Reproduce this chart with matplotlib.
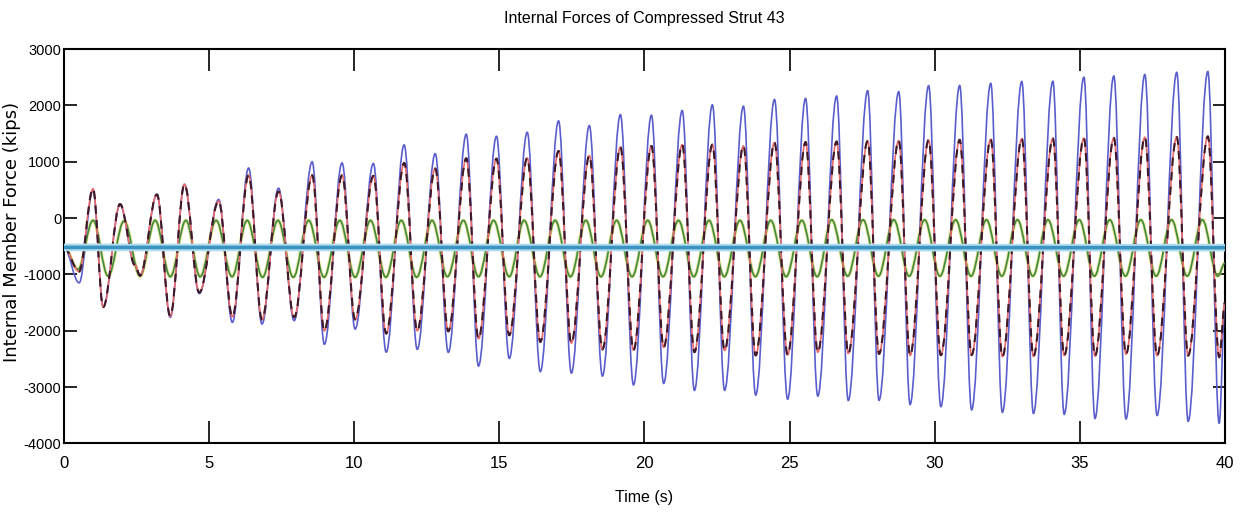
#Internal forces of compressed strut 43 - time history of member force
import matplotlib.pyplot as plt
import numpy as np
from matplotlib.path import Path
from matplotlib.patches import PathPatch

plt.rcParams['axes.unicode_minus'] = False
narrow = ['Liberation Sans', 'DejaVu Sans']

##########################################
#Extrema (time in s, force in kips)
t_main = [0.0, 0.52, 1.0, 1.35, 1.93, 2.45, 2.62, 3.2, 3.66, 4.15, 4.66, 5.33, 5.8, 6.36, 6.82,
          7.39, 7.93, 8.55, 8.97, 9.58, 10.03, 10.66, 11.1, 11.72, 12.17, 12.79, 13.24, 13.86,
          14.28, 14.9, 15.34, 15.96, 16.41, 17.04, 17.48, 18.1, 18.55, 19.17, 19.62, 20.24,
          20.66, 21.3, 21.72, 22.34, 22.76, 23.41, 23.83, 24.48, 24.93, 25.55, 25.97, 26.62,
          27.02, 27.69, 28.08, 28.76, 29.15, 29.79, 30.21, 30.86, 31.27, 31.93, 32.33, 33.0,
          33.4, 34.07, 34.46, 35.14, 35.52, 36.17, 36.59, 37.24, 37.66, 38.34, 38.73, 39.41,
          39.8, 40.0]
blue = [-520, -1150, 500, -1580, 230, -840, -1020, 420, -1760, 600, -1340, 330, -1850, 890, -1880,
        530, -1820, 1000, -2240, 980, -1970, 970, -2380, 1300, -2331, 1145, -2384, 1489,
        -2627, 1453, -2491, 1524, -2725, 1726, -2752, 1643, -2805, 1839, -2963, 1827,
        -2936, 1910, -3060, 2011, -3058, 1987, -3143, 2106, -3215, 2125, -3160, 2168,
        -3239, 2263, -3236, 2246, -3310, 2352, -3348, 2355, -3404, 2393, -3449, 2426,
        -3469, 2429, -3484, 2502, -3558, 2523, -3567, 2550, -3505, 2588, -3608, 2604,
        -3646, -1500]
red = [-520, -950, 520, -1580, 250, -840, -1020, 420, -1740, 600, -1320, 300, -1750, 760, -1800,
       470, -1760, 760, -2000, 760, -1800, 750, -2050, 980, -2000, 880, -2011, 1063,
       -2140, 1056, -2080, 1068, -2197, 1192, -2218, 1109, -2331, 1260, -2345, 1280,
       -2295, 1305, -2380, 1305, -2350, 1281, -2438, 1340, -2430, 1350, -2380, 1360,
       -2402, 1370, -2411, 1375, -2437, 1385, -2434, 1390, -2431, 1400, -2458, 1410,
       -2455, 1415, -2440, 1420, -2449, 1425, -2417, 1435, -2443, 1440, -2440, 1450,
       -2467, -1500]

t_green = [0.0, 0.48, 1.0, 1.52, 2.07, 2.62, 3.14, 3.66, 4.2, 4.69, 5.24, 5.79, 6.31, 6.84,
           7.37, 7.9, 8.43, 8.96, 9.5, 10.03, 10.56, 11.09, 11.62, 12.15, 12.68, 13.21, 13.76,
           14.28, 14.8, 15.34, 15.85, 16.4, 16.92, 17.45, 17.98, 18.5, 19.04, 19.57, 20.11,
           20.64, 21.17, 21.7, 22.22, 22.75, 23.29, 23.82, 24.35, 24.88, 25.42, 25.95, 26.45,
           27.0, 27.53, 28.06, 28.59, 29.12, 29.65, 30.18, 30.72, 31.25, 31.78, 32.31, 32.85,
           33.38, 33.9, 34.44, 34.98, 35.5, 36.03, 36.57, 37.1, 37.63, 38.16, 38.7, 39.22,
           39.75, 40.0]
green = [-500, -910, -40, -1030, -50, -1030, -40, -1040, -40, -1040, -40, -1040, -40, -1050,
         -40, -1050, -40, -1050, -40, -1050, -40, -1050, -40, -1050, -40, -1040, -40,
         -1040, -40, -1040, -40, -1040, -40, -1040, -40, -1040, -40, -1040, -40,
         -1040, -40, -1040, -40, -1040, -40, -1040, -40, -1040, -40, -1040, -30,
         -1030, -30, -1030, -30, -1030, -30, -1030, -30, -1030, -30, -1030, -30,
         -1030, -30, -1030, -30, -1030, -30, -1030, -30, -1030, -30, -1030, -30,
         -1030, -800]

t_axial = [0.0, 40.0]
axial = [-520, -525]

x_ticks = [0, 5, 10, 15, 20, 25, 30, 35, 40]
y_ticks = [-4000, -3000, -2000, -1000, 0, 1000, 2000, 3000]


def smooth_curve(ax, t, v, **kw):
	#join the read extrema with cubic segments that are flat at each extremum
	verts = [(t[0], v[0])]
	codes = [Path.MOVETO]
	for i in range(len(t) - 1):
		dt = t[i + 1] - t[i]
		verts += [(t[i] + 0.36 * dt, v[i]), (t[i + 1] - 0.36 * dt, v[i + 1]), (t[i + 1], v[i + 1])]
		codes += [Path.CURVE4] * 3
	patch = PathPatch(Path(verts, codes), fill=False, **kw)
	ax.add_patch(patch)
	return patch


##########################################
#Plot
fig = plt.figure(figsize=(12.43, 5.12), dpi=100)
ax = fig.add_axes([0.0515, 0.134, 0.934, 0.770])

smooth_curve(ax, t_main, blue, edgecolor='#5a5ecc', lw=1.2, zorder=3)
smooth_curve(ax, t_main, red, edgecolor='#e86a68', lw=1.2, zorder=4)
smooth_curve(ax, t_main, red, edgecolor='#3c1a2a', lw=1.5, ls=(0, (4, 3)), zorder=5)
smooth_curve(ax, t_green, green, edgecolor='#ddd65a', lw=2.4, alpha=0.7, zorder=2)
smooth_curve(ax, t_green, green, edgecolor='#3f8a45', lw=1.2, zorder=3)
ax.plot(t_axial, axial, color='#b0dcf0', lw=5.5, zorder=5)
ax.plot(t_axial, axial, color='#3b93c2', lw=2.6, zorder=6)

ax.set_xlim(0, 40)
ax.set_ylim(-4000, 3000)
ax.set_xticks(x_ticks)
ax.set_yticks(y_ticks)
ax.set_xticklabels([str(v) for v in x_ticks], family=narrow, fontsize=12)
ax.set_yticklabels([str(v) for v in y_ticks], family=narrow, fontsize=10.5)
ax.tick_params(axis='x', direction='in', length=16, width=1.2, top=True, pad=9)
ax.tick_params(axis='y', direction='in', length=9, width=1.2, right=True, pad=2)
for side in ax.spines.values():
	side.set_linewidth(1.5)

ax.set_title('Internal Forces of Compressed Strut 43', family=narrow, fontsize=11.5, pad=19)
ax.set_xlabel('Time (s)', family=narrow, fontsize=11.5, labelpad=14)
ax.set_ylabel('Internal Member Force (kips)', family='DejaVu Sans', fontsize=13)
ax.yaxis.set_label_coords(-0.037, 0.537)

fig.savefig('out.png', dpi=100)
